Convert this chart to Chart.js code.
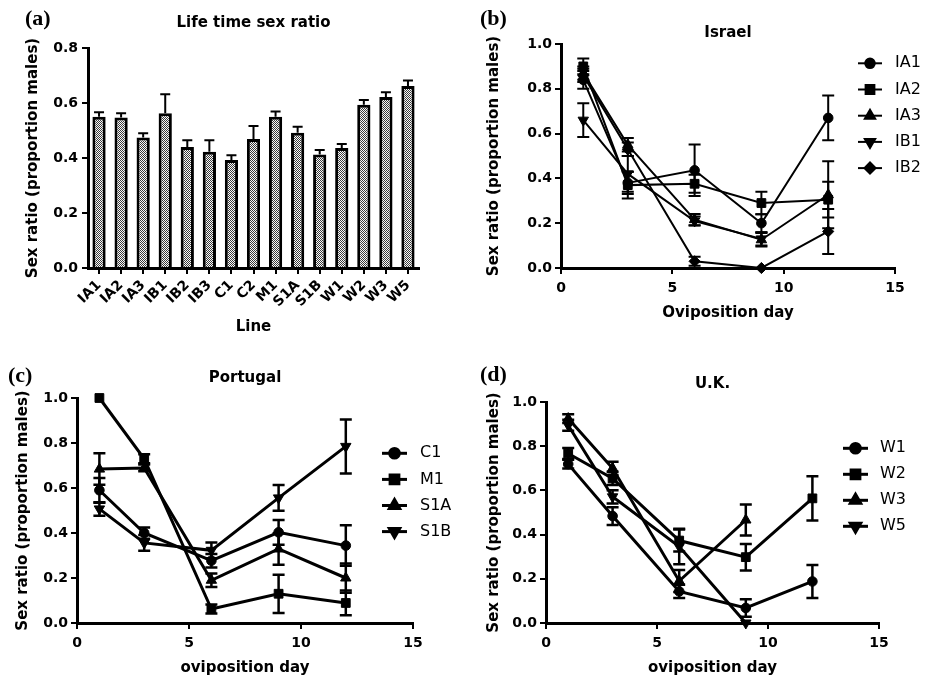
<!DOCTYPE html>
<html><head><meta charset="utf-8">
<script src="https://cdn.jsdelivr.net/npm/chart.js@4/dist/chart.umd.min.js"></script>
<style>
html,body{margin:0;padding:0;background:#fff;}
body{width:929px;height:680px;position:relative;overflow:hidden;}
canvas{position:absolute;}
</style></head><body>
<canvas id="ca" width="465" height="340" style="left:0;top:0"></canvas>
<canvas id="cb" width="464" height="340" style="left:465px;top:0"></canvas>
<canvas id="cc" width="465" height="340" style="left:0;top:340px"></canvas>
<canvas id="cd" width="464" height="340" style="left:465px;top:340px"></canvas>
<script>
// ---------- data ----------
const lineNames = ['IA1','IA2','IA3','IB1','IB2','IB3','C1','C2','M1','S1A','S1B','W1','W2','W3','W5'];
const lifetimeRatio = [0.550,0.547,0.475,0.563,0.440,0.423,0.393,0.469,0.550,0.492,0.413,0.436,0.594,0.622,0.662];
const lifetimeSE    = [0.016,0.016,0.015,0.069,0.025,0.042,0.017,0.047,0.019,0.022,0.016,0.015,0.017,0.017,0.020];
const lifetimeTicks = [0,0.2,0.4,0.6,0.8];

const days = [1,3,6,9,12];
const dayTicks = [0,5,10,15];
const ratioTicks = [0,0.2,0.4,0.6,0.8,1.0];

// Israel
const IA1 = [0.84,0.38,0.436,0.20,0.67];
const IA1_se = [0.04,0.05,0.115,0.04,0.10];
const IA2 = [0.90,0.37,0.376,0.29,0.305];
const IA2_se = [0.035,0.06,0.04,0.05,0.08];
const IA3 = [0.87,0.55,0.216,0.126,0.327];
const IA3_se = [0.03,0.03,0.025,0.03,0.15];
const IB1 = [0.66,0.42,0.21,0.13,null];
const IB1_se = [0.075,0.08,0.02,0.03,null];
const IB2 = [0.86,0.53,0.03,0.0,0.163];
const IB2_se = [0.03,0.03,0.02,0,0.10];

// Portugal
const C1 = [0.59,0.40,0.277,0.403,0.344];
const C1_se = [0.055,0.025,0.03,0.055,0.09];
const M1 = [1.0,0.73,0.062,0.13,0.089];
const M1_se = [0,0.02,0.02,0.085,0.055];
const S1A = [0.684,0.689,0.19,0.329,0.20];
const S1A_se = [0.07,0.015,0.03,0.07,0.065];
const S1B = [0.507,0.356,0.323,0.556,0.785];
const S1B_se = [0.03,0.035,0.035,0.057,0.12];

// U.K.
const W1 = [0.719,0.484,0.143,0.068,0.188];
const W1_se = [0.02,0.04,0.03,0.04,0.075];
const W2 = [0.767,0.654,0.373,0.298,0.564];
const W2_se = [0.025,0.03,0.05,0.06,0.10];
const W3 = [0.925,0.70,0.19,0.466,null];
const W3_se = [0.02,0.03,0.05,0.07,null];
const W5 = [0.895,0.571,0.346,0.0,null];
const W5_se = [0.025,0.03,0.08,0,null];

// ---------- helpers ----------
Chart.defaults.font.family = "'DejaVu Sans', sans-serif";
Chart.defaults.color = '#000';
const BLACK = '#000';
const TICKFONT = {size:14, weight:'bold'};
const TITLEFONT = {size:15, weight:'bold'};

const markers = [
  {pointStyle:'circle',   r:4.8, rot:0},
  {pointStyle:'rect',     r:6.2, rot:0},
  {pointStyle:'triangle', r:6.0, rot:0},
  {pointStyle:'triangle', r:6.0, rot:180},
  {pointStyle:'rectRot',  r:5.6, rot:0}
];

function drawMarker(ctx, m, x, y){
  if (Chart.helpers && Chart.helpers.drawPoint){
    Chart.helpers.drawPoint(ctx, {pointStyle:m.pointStyle, rotation:m.rot, radius:m.r, borderWidth:1}, x, y);
    return;
  }
  ctx.beginPath(); ctx.arc(x,y,m.r,0,Math.PI*2); ctx.fill();
}

const decor = {
  id:'decor',
  afterDatasetsDraw(chart, args, o){
    const ctx = chart.ctx, ca = chart.chartArea;
    const ys = chart.scales.y;
    ctx.save();
    // error bars
    ctx.strokeStyle = BLACK; ctx.lineWidth = o.errWidth || 2; ctx.lineCap = 'butt';
    chart.data.datasets.forEach((ds, di) => {
      if (!ds.errors) return;
      const meta = chart.getDatasetMeta(di);
      meta.data.forEach((el, i) => {
        const raw = ds.data[i];
        const v = (raw !== null && typeof raw === 'object') ? raw.y : raw;
        const e = ds.errors[i];
        if (v === null || v === undefined || !e) return;
        const x = el.x;
        const yt = ys.getPixelForValue(v + e);
        const yb = o.upOnly ? ys.getPixelForValue(v) : ys.getPixelForValue(v - e);
        ctx.beginPath();
        ctx.moveTo(x, yt); ctx.lineTo(x, yb);
        ctx.moveTo(x - o.cap, yt); ctx.lineTo(x + o.cap, yt);
        if (!o.upOnly){ ctx.moveTo(x - o.cap, yb); ctx.lineTo(x + o.cap, yb); }
        ctx.stroke();
      });
    });
    // title
    ctx.fillStyle = BLACK;
    if (o.title){
      ctx.font = "bold 15px 'DejaVu Sans'";
      ctx.textAlign = 'center'; ctx.textBaseline = 'middle';
      ctx.fillText(o.title.text, (ca.left + ca.right)/2, o.title.y);
    }
    if (o.tag){
      ctx.font = "bold 22px 'Liberation Serif'";
      ctx.textAlign = 'left'; ctx.textBaseline = 'middle';
      ctx.fillText(o.tag.text, o.tag.x, o.tag.y);
    }
    if (o.legend){
      const L = o.legend;
      chart.data.datasets.forEach((ds, i) => {
        const y = L.y0 + i * L.dy;
        ctx.strokeStyle = BLACK; ctx.lineWidth = ds.borderWidth;
        ctx.beginPath(); ctx.moveTo(L.x1, y); ctx.lineTo(L.x2, y); ctx.stroke();
        ctx.fillStyle = BLACK; ctx.strokeStyle = BLACK;
        drawMarker(ctx, ds.marker, (L.x1 + L.x2)/2, y);
        ctx.fillStyle = BLACK;
        ctx.font = "16px 'DejaVu Sans'";
        ctx.textAlign = 'left'; ctx.textBaseline = 'middle';
        ctx.fillText(ds.label, L.tx, y);
      });
    }
    ctx.restore();
  }
};

function lineDS(label, vals, errs, k, lw){
  const m = markers[k];
  return {
    label, marker:m,
    data: days.map((d,i) => ({x:d, y:vals[i]})),
    errors: errs,
    borderColor:BLACK, backgroundColor:BLACK, borderWidth:lw,
    pointStyle:m.pointStyle, pointRadius:m.r, pointRotation:m.rot,
    pointBackgroundColor:BLACK, pointBorderColor:BLACK, pointBorderWidth:1,
    tension:0, clip:false, spanGaps:false
  };
}

function lineOptions(o){
  return {
    animation:false, responsive:false, events:[],
    layout:{padding:{left:0, top:o.top, right:o.right, bottom:0}},
    plugins:{legend:{display:false}, tooltip:{enabled:false}, decor:o.decor},
    scales:{
      x:{
        type:'linear', min:0, max:15,
        afterFit: s => { s.height = o.xh; },
        afterBuildTicks: s => { s.ticks = dayTicks.map(v => ({value:v})); },
        ticks:{font:TICKFONT, color:BLACK, padding:6, maxRotation:0},
        grid:{drawOnChartArea:false, drawTicks:true, tickLength:6, color:BLACK, lineWidth:2},
        border:{display:true, color:BLACK, width:3},
        title:{display:true, text:o.xTitle, font:TITLEFONT, color:BLACK, padding:{top:0, bottom:o.xpb}}
      },
      y:{
        type:'linear', min:0, max:1,
        afterFit: s => { s.width = o.yw; },
        afterBuildTicks: s => { s.ticks = ratioTicks.map(v => ({value:v})); },
        ticks:{font:TICKFONT, color:BLACK, padding:3, callback:v => Number(v).toFixed(1)},
        grid:{drawOnChartArea:false, drawTicks:true, tickLength:6, color:BLACK, lineWidth:2},
        border:{display:true, color:BLACK, width:3},
        title:{display:true, text:'Sex ratio (proportion males)', font:TITLEFONT, color:BLACK, padding:{top:o.ypt, bottom:0}}
      }
    }
  };
}

// ---------- panel (a) ----------
const caEl = document.getElementById('ca');
const pc = document.createElement('canvas'); pc.width = 2; pc.height = 2;
const pctx = pc.getContext('2d');
pctx.fillStyle = '#fafafa'; pctx.fillRect(0,0,2,2);
pctx.fillStyle = '#3a3a3a'; pctx.fillRect(0,0,1,1); pctx.fillRect(1,1,1,1);
const checker = caEl.getContext('2d').createPattern(pc, 'repeat');

new Chart(caEl, {
  type:'bar',
  data:{labels:lineNames, datasets:[{
    label:'Life time sex ratio', data:lifetimeRatio, errors:lifetimeSE,
    backgroundColor:checker, borderColor:BLACK, borderWidth:3,
    barPercentage:0.6, categoryPercentage:1
  }]},
  options:{
    animation:false, responsive:false, events:[],
    layout:{padding:{left:0, top:48, right:46, bottom:0}},
    plugins:{legend:{display:false}, tooltip:{enabled:false},
      decor:{title:{text:'Life time sex ratio', y:23.5}, tag:{text:'(a)', x:25, y:19}, upOnly:true, cap:5, errWidth:2}},
    scales:{
      x:{
        afterFit: s => { s.height = 72; },
        ticks:{font:TICKFONT, color:BLACK, minRotation:45, maxRotation:45, autoSkip:false, padding:3},
        grid:{offset:false, drawOnChartArea:false, drawTicks:true, tickLength:6, color:BLACK, lineWidth:2},
        border:{display:true, color:BLACK, width:3},
        title:{display:true, text:'Line', font:TITLEFONT, color:BLACK, padding:{top:0, bottom:4}}
      },
      y:{
        min:0, max:0.8,
        afterFit: s => { s.width = 88; },
        afterBuildTicks: s => { s.ticks = lifetimeTicks.map(v => ({value:v})); },
        ticks:{font:TICKFONT, color:BLACK, padding:4, callback:v => Number(v).toFixed(1)},
        grid:{drawOnChartArea:false, drawTicks:true, tickLength:6, color:BLACK, lineWidth:2},
        border:{display:true, color:BLACK, width:3},
        title:{display:true, text:'Sex ratio (proportion males)', font:TITLEFONT, color:BLACK, padding:{top:24.5, bottom:0}}
      }
    }
  },
  plugins:[decor]
});

// ---------- panel (b) Israel ----------
new Chart(document.getElementById('cb'), {
  type:'line',
  data:{datasets:[
    lineDS('IA1', IA1, IA1_se, 0, 2),
    lineDS('IA2', IA2, IA2_se, 1, 2),
    lineDS('IA3', IA3, IA3_se, 2, 2),
    lineDS('IB1', IB1, IB1_se, 3, 2),
    lineDS('IB2', IB2, IB2_se, 4, 2)
  ]},
  options: lineOptions({top:44, right:34, xh:72, yw:96, xpb:18, ypt:20.5, xTitle:'Oviposition day',
    decor:{title:{text:'Israel', y:33}, tag:{text:'(b)', x:15, y:19}, cap:6, errWidth:2,
      legend:{x1:393, x2:417, tx:430, y0:63.3, dy:26.2}}}),
  plugins:[decor]
});

// ---------- panel (c) Portugal ----------
new Chart(document.getElementById('cc'), {
  type:'line',
  data:{datasets:[
    lineDS('C1', C1, C1_se, 0, 3),
    lineDS('M1', M1, M1_se, 1, 3),
    lineDS('S1A', S1A, S1A_se, 2, 3),
    lineDS('S1B', S1B, S1B_se, 3, 3)
  ]},
  options: lineOptions({top:58, right:52, xh:57, yw:77, xpb:3, ypt:14.5, xTitle:'oviposition day',
    decor:{title:{text:'Portugal', y:38}, tag:{text:'(c)', x:8, y:36}, cap:6, errWidth:2.5,
      legend:{x1:382, x2:407, tx:420, y0:113.3, dy:26.1}}}),
  plugins:[decor]
});

// ---------- panel (d) U.K. ----------
new Chart(document.getElementById('cd'), {
  type:'line',
  data:{datasets:[
    lineDS('W1', W1, W1_se, 0, 3),
    lineDS('W2', W2, W2_se, 1, 3),
    lineDS('W3', W3, W3_se, 2, 3),
    lineDS('W5', W5, W5_se, 3, 3)
  ]},
  options: lineOptions({top:62, right:50, xh:57, yw:81, xpb:3, ypt:20.5, xTitle:'oviposition day',
    decor:{title:{text:'U.K.', y:44}, tag:{text:'(d)', x:15, y:35}, cap:6, errWidth:2.5,
      legend:{x1:378, x2:403, tx:415, y0:108.3, dy:26}}}),
  plugins:[decor]
});
</script>
</body></html>
